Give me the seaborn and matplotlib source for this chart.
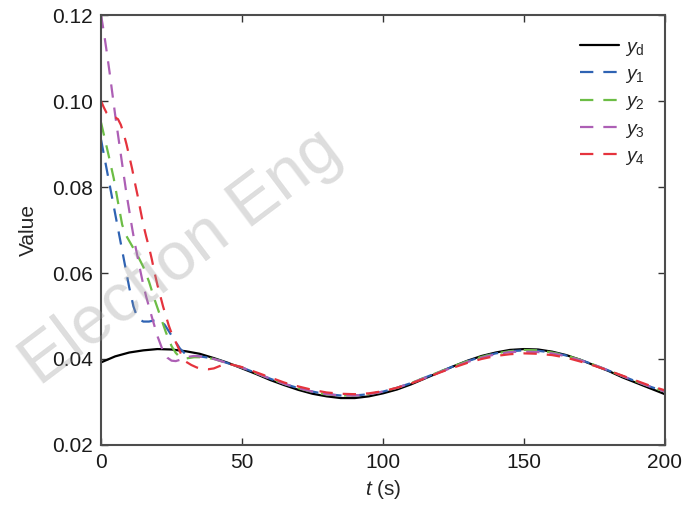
import numpy as np
import pandas as pd
import seaborn as sns
import matplotlib.pyplot as plt

# desired trajectory, sampled every 5 s
t_grid = list(range(0, 205, 5))
yd = [0.0392, 0.0406, 0.0415, 0.0420, 0.0423, 0.0422, 0.0418, 0.0412, 0.0402, 0.0391,
      0.0378, 0.0365, 0.0351, 0.0339, 0.0328, 0.0319, 0.0313, 0.0309, 0.0309, 0.0313,
      0.0320, 0.0329, 0.0341, 0.0355, 0.0369, 0.0383, 0.0396, 0.0407, 0.0415, 0.0421,
      0.0423, 0.0422, 0.0417, 0.0409, 0.0398, 0.0385, 0.0372, 0.0357, 0.0344, 0.0331,
      0.0318]

# transient part (0-45 s) of each output
y1_t = [0, 2.5, 5, 7.5, 10, 11.5, 12.5, 13.5, 15, 17, 19, 21, 22.5, 24, 26, 28, 30, 32, 35, 40, 45]
y1_v = [0.0910, 0.0824, 0.0738, 0.0652, 0.0566, 0.0522, 0.0503, 0.0492, 0.0487, 0.0487,
        0.0490, 0.0488, 0.0480, 0.0465, 0.0444, 0.0424, 0.0411, 0.0407, 0.0406, 0.0401, 0.0390]

y2_t = [0, 2.5, 4.5, 6, 7.5, 9, 11, 13, 15, 17, 19, 21, 23, 25, 26.5, 28, 30, 33, 36, 40, 45]
y2_v = [0.0950, 0.0879, 0.0820, 0.0765, 0.0712, 0.0686, 0.0663, 0.0640, 0.0614, 0.0580,
        0.0538, 0.0500, 0.0462, 0.0430, 0.0414, 0.0404, 0.0401, 0.0404, 0.0404, 0.0400, 0.0390]

y3_t = [0, 1, 2, 3, 4, 5, 6, 7, 8, 9, 10, 11, 12, 13, 14, 15, 16, 18, 20, 22, 23.5, 25,
        26.5, 28, 30, 33, 36, 40, 45]
y3_v = [0.1200, 0.1160, 0.1115, 0.1068, 0.1018, 0.0968, 0.0922, 0.0876, 0.0830, 0.0785,
        0.0745, 0.0705, 0.0668, 0.0636, 0.0603, 0.0572, 0.0545, 0.0498, 0.0453, 0.0418,
        0.0403, 0.0396, 0.0395, 0.0398, 0.0404, 0.0407, 0.0405, 0.0400, 0.0390]

y4_t = [0, 1, 2, 3, 4, 5, 6, 7, 8, 9, 10, 11, 12, 13, 14, 15, 16, 17, 18, 19, 20, 21, 22,
        23, 24, 25, 26, 27, 28, 29, 30, 32, 34, 36, 38, 40, 43, 45]
y4_v = [0.1000, 0.0985, 0.0972, 0.0965, 0.0962, 0.0962, 0.0958, 0.0945, 0.0925, 0.0900,
        0.0872, 0.0843, 0.0810, 0.0779, 0.0745, 0.0712, 0.0685, 0.0660, 0.0632, 0.0600,
        0.0572, 0.0547, 0.0522, 0.0500, 0.0478, 0.0460, 0.0446, 0.0432, 0.0417, 0.0403,
        0.0394, 0.0386, 0.0380, 0.0377, 0.0376, 0.0378, 0.0386, 0.0389]

# tracking part (50-200 s)
t_tail = list(range(50, 205, 5))
y1_tail = [0.0380, 0.0367, 0.0354, 0.0342, 0.0332, 0.0324, 0.0318, 0.0315, 0.0315, 0.0318,
           0.0324, 0.0333, 0.0344, 0.0357, 0.0370, 0.0383, 0.0395, 0.0405, 0.0413, 0.0418,
           0.0420, 0.0419, 0.0415, 0.0408, 0.0398, 0.0386, 0.0373, 0.0360, 0.0347, 0.0335,
           0.0324]
y2_tail = [0.0380, 0.0367, 0.0354, 0.0342, 0.0332, 0.0323, 0.0317, 0.0315, 0.0315, 0.0318,
           0.0324, 0.0333, 0.0344, 0.0357, 0.0370, 0.0383, 0.0395, 0.0405, 0.0413, 0.0418,
           0.0421, 0.0420, 0.0415, 0.0408, 0.0398, 0.0386, 0.0373, 0.0360, 0.0347, 0.0335,
           0.0324]
y3_tail = [0.0380, 0.0367, 0.0354, 0.0342, 0.0332, 0.0324, 0.0318, 0.0315, 0.0315, 0.0318,
           0.0324, 0.0333, 0.0344, 0.0356, 0.0369, 0.0381, 0.0393, 0.0403, 0.0411, 0.0416,
           0.0417, 0.0416, 0.0413, 0.0406, 0.0397, 0.0386, 0.0373, 0.0360, 0.0347, 0.0335,
           0.0324]
y4_tail = [0.0381, 0.0369, 0.0357, 0.0345, 0.0336, 0.0328, 0.0322, 0.0319, 0.0318, 0.0320,
           0.0325, 0.0333, 0.0343, 0.0355, 0.0368, 0.0380, 0.0391, 0.0400, 0.0407, 0.0411,
           0.0413, 0.0412, 0.0409, 0.0403, 0.0394, 0.0384, 0.0373, 0.0361, 0.0349, 0.0337,
           0.0327]

labels = [r'$y_{\mathrm{d}}$', r'$y_1$', r'$y_2$', r'$y_3$', r'$y_4$']
colors = ['black', '#2f63b3', '#6cbd45', '#ad5fb5', '#e5333d']

sns.set_style('ticks')
plt.rcParams['font.family'] = ['Liberation Sans', 'DejaVu Sans']
plt.rcParams['mathtext.fontset'] = 'custom'
plt.rcParams['mathtext.rm'] = 'Liberation Sans'
plt.rcParams['mathtext.it'] = 'Liberation Sans:italic'

fig, ax = plt.subplots(figsize=(6.97, 5.05), dpi=100)
fig.subplots_adjust(left=0.145, right=0.954, bottom=0.119, top=0.970)

sns.lineplot(x=t_grid, y=yd, ax=ax, color=colors[0], lw=1.6, label=labels[0])
series = [(y1_t, y1_v, y1_tail), (y2_t, y2_v, y2_tail), (y3_t, y3_v, y3_tail), (y4_t, y4_v, y4_tail)]
for (tt, vv, tail), c, lab in zip(series, colors[1:], labels[1:]):
    sns.lineplot(x=tt + t_tail, y=vv + tail, ax=ax, color=c, lw=1.6,
                 linestyle=(0, (6, 4.5)), label=lab)

ax.set_xlim(0, 200)
ax.set_ylim(0.02, 0.12)
ax.set_xticks([0, 50, 100, 150, 200])
ax.set_yticks([0.02, 0.04, 0.06, 0.08, 0.10, 0.12])
ax.set_yticklabels(['0.02', '0.04', '0.06', '0.08', '0.10', '0.12'])
ax.set_xlabel(r'$t$ (s)', fontsize=15, labelpad=4)
ax.set_ylabel('Value', fontsize=15, labelpad=10)
ax.tick_params(direction='in', length=5, width=1, labelsize=15, pad=6, top=True, right=True,
               colors='#333333', labelcolor='#1a1a1a')
for sp in ax.spines.values():
    sp.set_color('#4d4d4d')
    sp.set_linewidth(1.5)

ax.legend(loc='upper left', bbox_to_anchor=(0.835, 0.965), frameon=False, fontsize=14,
          handlelength=2.0, handletextpad=0.35, labelspacing=0.4, borderaxespad=0)

# watermark
fig.text(0.26, 0.49, 'Election Eng', fontsize=49, color='#999999', alpha=0.33,
         rotation=37, ha='center', va='center')

fig.savefig('out.png', dpi=100)
